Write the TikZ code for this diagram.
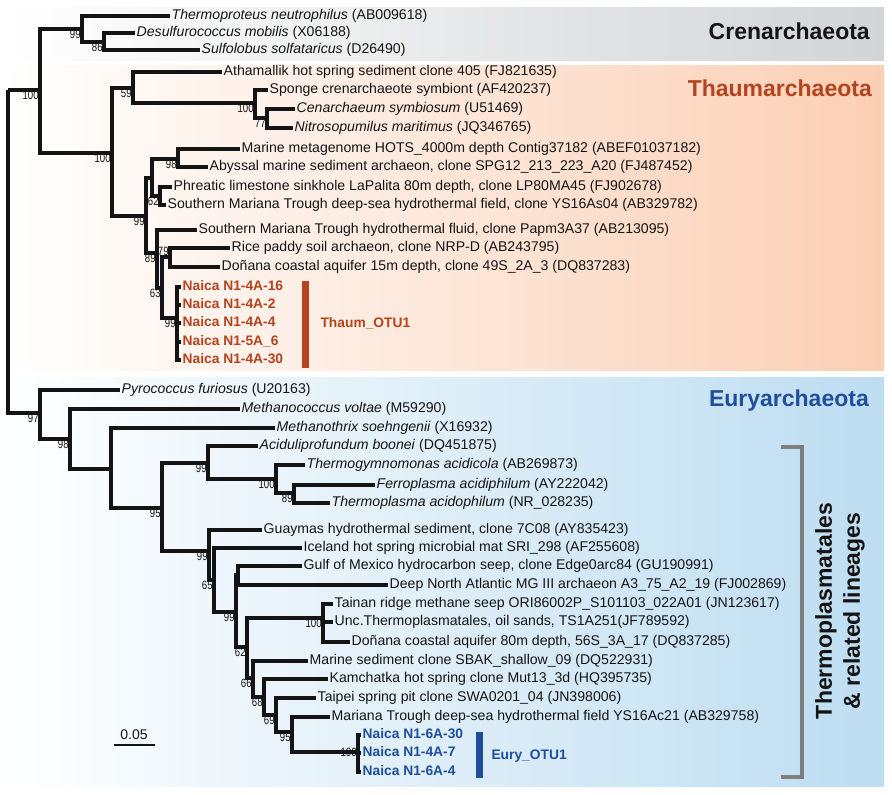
\documentclass[tikz,border=0pt]{standalone}
\usepackage{fontspec}
\setmainfont{Liberation Sans}
\newfontfamily\bsfont[FakeStretch=0.8]{Liberation Sans}
\usepackage{xcolor}
\definecolor{fgColor}{HTML}{141414}
\definecolor{thaumColor}{HTML}{B4431E}
\definecolor{euryColor}{HTML}{1F4E9B}
\definecolor{crenBg}{HTML}{D3D4D6}
\definecolor{thaumBg}{HTML}{FBCFB4}
\definecolor{euryBg}{HTML}{BDDDF1}
\definecolor{bracketColor}{HTML}{7F7F7F}

\begin{document}
\begin{tikzpicture}[x=1pt,y=1pt,yscale=-1,
  branch/.style={fgColor, line width=3.2pt},
  leaf/.style={anchor=west, inner sep=1.5pt, text height=10pt, text depth=3pt, text=fgColor, font=\fontsize{14.1}{16}\selectfont},
  naicaT/.style={leaf, text=thaumColor, font=\bfseries\fontsize{13.8}{16}\selectfont},
  naicaE/.style={leaf, text=euryColor, font=\bfseries\fontsize{13.8}{16}\selectfont},
  bs/.style={inner sep=1.2pt, text=fgColor, font=\bsfont\fontsize{12}{12}\selectfont},
  title/.style={anchor=east, inner sep=0pt, font=\bfseries\fontsize{23}{23}\selectfont}]
		\useasboundingbox (0,0) rectangle (892,795);

		% Bands
		\shade [left color=white, right color=crenBg]  (0,7)   rectangle (884,60);
		\shade [left color=white, right color=thaumBg] (0,65)  rectangle (884,370);
		\shade [left color=white, right color=euryBg]  (0,377) rectangle (884,786);

		% Inner Nodes
		\coordinate (root) at (8,90);
		\coordinate [label={[bs]below left:100}] (nA)  at (40,90);
		\coordinate [label={[bs]below left:99}]  (nCr) at (82,29);
		\coordinate [label={[bs]below left:86}]  (n86) at (104,42);
		\coordinate [label={[bs]below left:100}] (nTh) at (112,153);
		\coordinate [label={[bs]below left:59}]  (t2)  at (133,88);
		\coordinate [label={[bs]below left:100}] (t3)  at (255,103);
		\coordinate [label={[bs]below left:77}]  (t4)  at (267,118);
		\coordinate [label={[bs]below left:99}]  (t8)  at (146,216);
		\coordinate (t7) at (152,178);
		\coordinate [label={[bs]below left:98}]  (t6)  at (178,159);
		\coordinate [label={[bs]below left:62}]  (t9)  at (160,196);
		\coordinate [label={[bs]below left:89}]  (t10) at (157,253);
		\coordinate [label={[bs]below left:63}]  (t11) at (162,288);
		\coordinate [label={[bs]above left:79}]  (t12) at (170,257);
		\coordinate [label={[bs]below left:99}]  (t13) at (177,318);
		\coordinate [label={[bs]below left:97}]  (nB)  at (40,413);
		\coordinate [label={[bs]below left:98}]  (nC)  at (70,439);
		\coordinate (nD) at (111,469);
		\coordinate [label={[bs]below left:95}]  (nE)  at (162,508);
		\coordinate [label={[bs]below left:99}]  (nF)  at (208,463);
		\coordinate [label={[bs]below left:100}] (nG)  at (276,479);
		\coordinate [label={[bs]below left:89}]  (nH)  at (294,493);
		\coordinate [label={[bs]below left:99}]  (nI)  at (209,551);
		\coordinate [label={[bs]below left:65}]  (nJ)  at (214,580);
		\coordinate [label={[bs]below left:99}]  (nK)  at (236,612);
		\coordinate (nL) at (238,575);
		\coordinate [label={[bs]below left:62}]  (nM)  at (247,647);
		\coordinate [label={[bs]below left:100}] (nN)  at (323,618);
		\coordinate [label={[bs]below left:66}]  (nO)  at (253,678);
		\coordinate [label={[bs]below left:68}]  (nP)  at (264,697);
		\coordinate [label={[bs]below left:69}]  (nQ)  at (276,715);
		\coordinate [label={[bs]below left:95}]  (nR)  at (292,732);
		\coordinate [label={[bs]left:100}]       (nS)  at (358,752);

		% Leaves
		\node [leaf] (thermoproteus) at (170,16)  {\textit{Thermoproteus neutrophilus} (AB009618)};
		\node [leaf] (desulfuro)     at (135,33)  {\textit{Desulfurococcus mobilis} (X06188)};
		\node [leaf] (sulfolobus)    at (200,50)  {\textit{Sulfolobus solfataricus} (D26490)};
		\node [leaf] (athamallik)    at (222,72)  {Athamallik hot spring sediment clone 405 (FJ821635)};
		\node [leaf] (sponge)        at (268,90)  {Sponge crenarchaeote symbiont (AF420237)};
		\node [leaf] (cenarch)       at (295,109) {\textit{Cenarchaeum symbiosum} (U51469)};
		\node [leaf] (nitroso)       at (293,128) {\textit{Nitrosopumilus maritimus} (JQ346765)};
		\node [leaf] (hots)          at (240,149) {Marine metagenome HOTS\_4000m depth Contig37182 (ABEF01037182)};
		\node [leaf] (abyssal)       at (208,167) {Abyssal marine sediment archaeon, clone SPG12\_213\_223\_A20 (FJ487452)};
		\node [leaf] (phreatic)      at (172,187) {Phreatic limestone sinkhole LaPalita 80m depth, clone LP80MA45 (FJ902678)};
		\node [leaf] (smtfield)      at (166,205) {Southern Mariana Trough deep-sea hydrothermal field, clone YS16As04 (AB329782)};
		\node [leaf] (smtfluid)      at (197,230) {Southern Mariana Trough hydrothermal fluid, clone Papm3A37 (AB213095)};
		\node [leaf] (ricepaddy)     at (230,248) {Rice paddy soil archaeon, clone NRP-D (AB243795)};
		\node [leaf] (donanaA)       at (220,267) {Doñana coastal aquifer 15m depth, clone 49S\_2A\_3 (DQ837283)};
		\node [leaf] (pyro)          at (120,390) {\textit{Pyrococcus furiosus} (U20163)};
		\node [leaf] (mcvoltae)      at (240,409) {\textit{Methanococcus voltae} (M59290)};
		\node [leaf] (mthrix)        at (275,428) {\textit{Methanothrix soehngenii} (X16932)};
		\node [leaf] (acidul)        at (258,446) {\textit{Aciduliprofundum boonei} (DQ451875)};
		\node [leaf] (tgymno)        at (305,465) {\textit{Thermogymnomonas acidicola} (AB269873)};
		\node [leaf] (ferro)         at (375,485) {\textit{Ferroplasma acidiphilum} (AY222042)};
		\node [leaf] (tplasma)       at (330,503) {\textit{Thermoplasma acidophilum} (NR\_028235)};
		\node [leaf] (guaymas)       at (262,530) {Guaymas hydrothermal sediment, clone 7C08 (AY835423)};
		\node [leaf] (iceland)       at (302,548) {Iceland hot spring microbial mat SRI\_298 (AF255608)};
		\node [leaf] (gulfmex)       at (302,566) {Gulf of Mexico hydrocarbon seep, clone Edge0arc84 (GU190991)};
		\node [leaf] (deepnorth)     at (388,585) {Deep North Atlantic MG III archaeon A3\_75\_A2\_19 (FJ002869)};
		\node [leaf] (tainan)        at (333,604) {Tainan ridge methane seep ORI86002P\_S101103\_022A01 (JN123617)};
		\node [leaf] (uncthermo)     at (333,622) {Unc.Thermoplasmatales, oil sands, TS1A251(JF789592)};
		\node [leaf] (donanaB)       at (350,642) {Doñana coastal aquifer 80m depth, 56S\_3A\_17 (DQ837285)};
		\node [leaf] (marsed)        at (308,661) {Marine sediment clone SBAK\_shallow\_09 (DQ522931)};
		\node [leaf] (kamchatka)     at (328,679) {Kamchatka hot spring clone Mut13\_3d (HQ395735)};
		\node [leaf] (taipei)        at (316,698) {Taipei spring pit clone SWA0201\_04 (JN398006)};
		\node [leaf] (mariana)       at (330,717) {Mariana Trough deep-sea hydrothermal field YS16Ac21 (AB329758)};

		% Straight Lines
		\draw [branch] (root) |- (nA);
		\draw [branch] (root) |- (nB);
		\draw [branch] (nA) |- (nCr);
		\draw [branch] (nA) |- (nTh);
		\draw [branch] (nCr) |- (thermoproteus.west);
		\draw [branch] (nCr) |- (n86);
		\draw [branch] (n86) |- (desulfuro.west);
		\draw [branch] (n86) |- (sulfolobus.west);
		\draw [branch] (nTh) |- (t2);
		\draw [branch] (nTh) |- (t8);
		\draw [branch] (t2) |- (athamallik.west);
		\draw [branch] (t2) |- (t3);
		\draw [branch] (t3) |- (sponge.west);
		\draw [branch] (t3) |- (t4);
		\draw [branch] (t4) |- (cenarch.west);
		\draw [branch] (t4) |- (nitroso.west);
		\draw [branch] (t8) |- (t7);
		\draw [branch] (t8) |- (t10);
		\draw [branch] (t7) |- (t6);
		\draw [branch] (t7) |- (t9);
		\draw [branch] (t6) |- (hots.west);
		\draw [branch] (t6) |- (abyssal.west);
		\draw [branch] (t9) |- (phreatic.west);
		\draw [branch] (t9) |- (smtfield.west);
		\draw [branch] (t10) |- (smtfluid.west);
		\draw [branch] (t10) |- (t11);
		\draw [branch] (t11) |- (t12);
		\draw [branch] (t11) |- (t13);
		\draw [branch] (t12) |- (ricepaddy.west);
		\draw [branch] (t12) |- (donanaA.west);
		\foreach \lbl/\yy [count=\i] in {N1-4A-16/287, N1-4A-2/305, N1-4A-4/323, N1-5A\_6/342, N1-4A-30/360} {
			\node [naicaT] (naicaT\i) at (181,\yy) {Naica \lbl};
			\draw [branch] (t13) |- (naicaT\i.west);
		}
		\draw [branch] (nB) |- (pyro.west);
		\draw [branch] (nB) |- (nC);
		\draw [branch] (nC) |- (mcvoltae.west);
		\draw [branch] (nC) |- (nD);
		\draw [branch] (nD) |- (mthrix.west);
		\draw [branch] (nD) |- (nE);
		\draw [branch] (nE) |- (nF);
		\draw [branch] (nE) |- (nI);
		\draw [branch] (nF) |- (acidul.west);
		\draw [branch] (nF) |- (nG);
		\draw [branch] (nG) |- (tgymno.west);
		\draw [branch] (nG) |- (nH);
		\draw [branch] (nH) |- (ferro.west);
		\draw [branch] (nH) |- (tplasma.west);
		\draw [branch] (nI) |- (guaymas.west);
		\draw [branch] (nI) |- (nJ);
		\draw [branch] (nJ) |- (iceland.west);
		\draw [branch] (nJ) |- (nK);
		\draw [branch] (nK) |- (nL);
		\draw [branch] (nK) |- (nM);
		\draw [branch] (nL) |- (gulfmex.west);
		\draw [branch] (nL) |- (deepnorth.west);
		\draw [branch] (nM) |- (nN);
		\draw [branch] (nM) |- (nO);
		\draw [branch] (nN) |- (tainan.west);
		\draw [branch] (nN) |- (uncthermo.west);
		\draw [branch] (nN) |- (donanaB.west);
		\draw [branch] (nO) |- (marsed.west);
		\draw [branch] (nO) |- (nP);
		\draw [branch] (nP) |- (kamchatka.west);
		\draw [branch] (nP) |- (nQ);
		\draw [branch] (nQ) |- (taipei.west);
		\draw [branch] (nQ) |- (nR);
		\draw [branch] (nR) |- (mariana.west);
		\draw [branch] (nR) |- (nS);
		\foreach \lbl/\yy [count=\i] in {N1-6A-30/735, N1-4A-7/753, N1-6A-4/772} {
			\node [naicaE] (naicaE\i) at (361,\yy) {Naica \lbl};
			\draw [branch] (nS) |- (naicaE\i.west);
		}

		% OTU bars
		\fill [thaumColor] (302,281) rectangle (309,368);
		\node [anchor=west, text=thaumColor, font=\bfseries\fontsize{13.8}{16}\selectfont] (thaumOtu) at (317,323) {Thaum\_OTU1};
		\fill [euryColor] (476,732) rectangle (483,778);
		\node [anchor=west, text=euryColor, font=\bfseries\fontsize{13.8}{16}\selectfont] (euryOtu) at (488,756) {Eury\_OTU1};

		% Bracket
		\draw [bracketColor, line width=3.2pt] (781,447) -- (802,447) -- (802,777) -- (781,777);
		\node [rotate=90, align=center, text=fgColor, font=\bfseries\fontsize{23}{28}\selectfont] (thermoLbl) at (840,611) {Thermoplasmatales\\\& related lineages};

		% Text Node
		\node [title, text=fgColor]    (cren)  at (870,31)  {Crenarchaeota};
		\node [title, text=thaumColor] (thaum) at (872,88)  {Thaumarchaeota};
		\node [title, text=euryColor]  (eury)  at (869,401) {Euryarchaeota};

		% Scale
		\draw [fgColor, line width=2.6pt] (114,745) -- (155,745);
		\node [text=fgColor, font=\fontsize{14}{16}\selectfont] (scaleLbl) at (134,735) {0.05};
	\end{tikzpicture}
\end{document}
